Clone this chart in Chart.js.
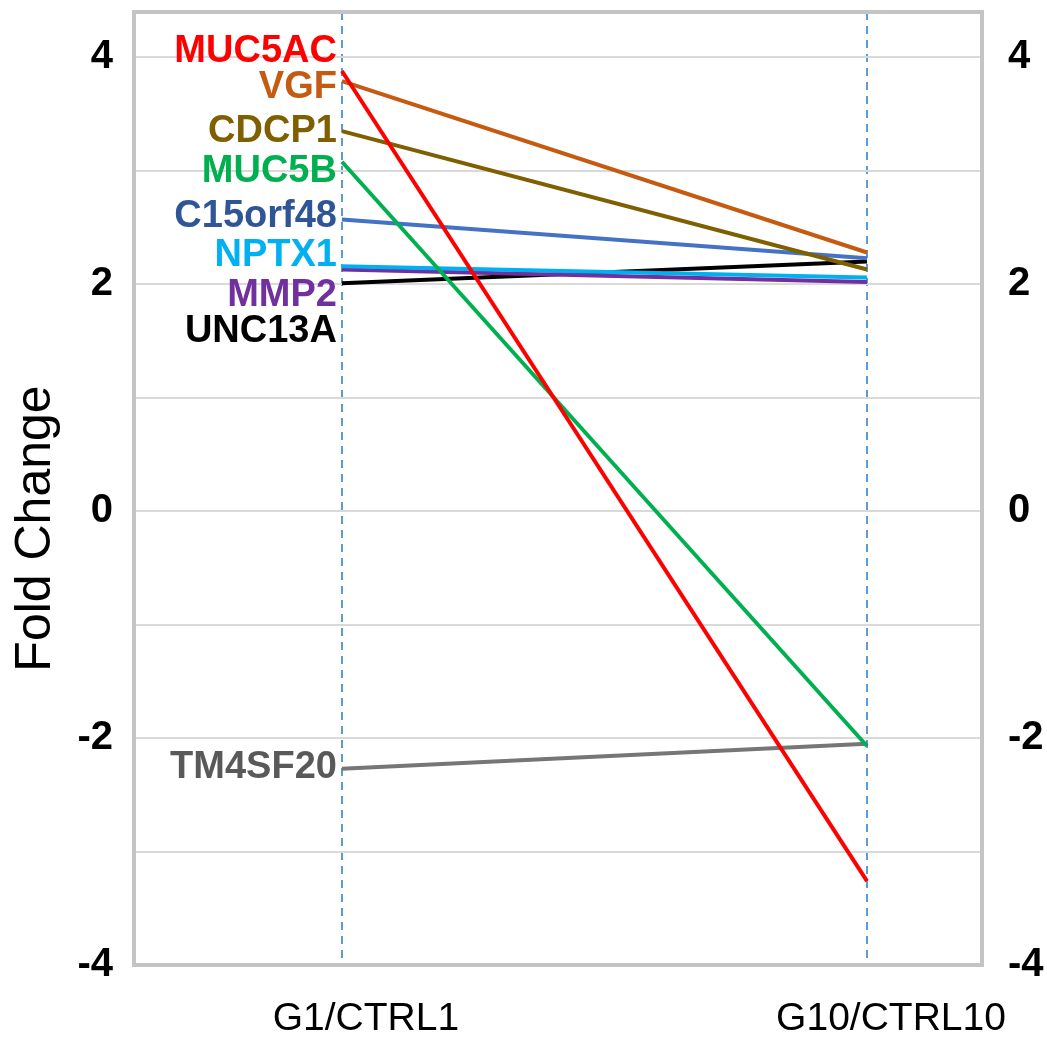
<!DOCTYPE html>
<html>
<head>
<meta charset="utf-8">
<script src="https://cdn.jsdelivr.net/npm/chart.js@4"></script>
<style>
    html, body { margin: 0; padding: 0; background: #fff; }
</style>
</head>
<body>
<canvas id="chart" width="1047" height="1050"></canvas>
<script>
(function (Chart) {
    "use strict";

    var categories = ["G1/CTRL1", "G10/CTRL10"];
    var genes = ["MUC5AC", "VGF", "CDCP1", "MUC5B", "C15orf48", "NPTX1", "MMP2", "UNC13A", "TM4SF20"];
    var g1Values = [3.88, 3.79, 3.35, 3.08, 2.57, 2.16, 2.13, 2.01, -2.27];
    var g10Values = [-3.26, 2.28, 2.13, -2.07, 2.23, 2.06, 2.02, 2.20, -2.05];
    var yTicks = [-4, -3, -2, -1, 0, 1, 2, 3, 4];
    // where the gene names sit next to the first column (in fold change units)
    var labelAnchors = [4.05, 3.73, 3.35, 2.99, 2.60, 2.25, 1.90, 1.58, -2.26];

    var lineColors = ["#FF0000", "#C55A11", "#7F6000", "#00B050", "#4472C4", "#00B0F0", "#7030A0", "#000000", "#767676"];
    var labelColors = ["#FF0000", "#C55A11", "#7F6000", "#00B050", "#2F5597", "#00B0F0", "#7030A0", "#000000", "#595959"];

    var datasets = genes.map(function (gene, i) {
        return {
            label: gene,
            data: [{x: 0, y: g1Values[i]}, {x: 1, y: g10Values[i]}],
            borderColor: lineColors[i],
            borderWidth: 4,
            pointRadius: 0,
            tension: 0,
            fill: false
        };
    });

    // plot frame, gene names and the y title
    var decorations = {
        id: "decorations",
        beforeDatasetsDraw: function (chart) {
            var ctx = chart.ctx, a = chart.chartArea;
            ctx.save();
            ctx.strokeStyle = "#C4C4C4";
            ctx.lineWidth = 4;
            ctx.strokeRect(a.left, a.top, a.right - a.left, a.bottom - a.top);
            ctx.restore();
        },
        afterDatasetsDraw: function (chart) {
            var ctx = chart.ctx,
                xs = chart.scales.x,
                ys = chart.scales.y,
                a = chart.chartArea,
                xText = xs.getPixelForValue(0) - 5;

            ctx.save();
            ctx.font = "bold 38px 'Liberation Sans', Arial, sans-serif";
            ctx.textAlign = "right";
            ctx.textBaseline = "middle";
            genes.forEach(function (gene, i) {
                ctx.fillStyle = labelColors[i];
                ctx.fillText(gene, xText, ys.getPixelForValue(labelAnchors[i]));
            });

            ctx.translate(50, (a.top + a.bottom) / 2 + 40);
            ctx.rotate(-Math.PI / 2);
            ctx.textAlign = "center";
            ctx.textBaseline = "alphabetic";
            ctx.fillStyle = "#000";
            ctx.font = "50px 'Liberation Sans', Arial, sans-serif";
            ctx.fillText("Fold Change", 0, 0);
            ctx.restore();
        }
    };

    var tickFont = {family: "'Liberation Sans', Arial, sans-serif", size: 40, weight: "bold"};

    // no extra room for overhanging tick labels, the frame is fixed
    function noOverhang(scale) {
        scale.paddingTop = 0;
        scale.paddingBottom = 0;
        scale.paddingLeft = 0;
        scale.paddingRight = 0;
    }

    new Chart(document.getElementById("chart"), {
        type: "line",
        data: {datasets: datasets},
        options: {
            responsive: false,
            animation: false,
            devicePixelRatio: 1,
            layout: {padding: {top: 12, left: 0, right: 0, bottom: 0}},
            plugins: {legend: {display: false}, tooltip: {enabled: false}},
            scales: {
                x: {
                    type: "linear",
                    min: -0.396,
                    max: 1.219,
                    afterBuildTicks: function (scale) {
                        scale.ticks = categories.map(function (c, i) { return {value: i}; });
                    },
                    afterFit: function (scale) {
                        scale.height = 85;
                        noOverhang(scale);
                    },
                    grid: {color: "#5B9BD5", lineWidth: 2, drawTicks: false},
                    border: {display: false, dash: [8, 6]},
                    ticks: {
                        callback: function (v) { return categories[v]; },
                        font: {family: "'Liberation Sans', Arial, sans-serif", size: 39},
                        color: "#000",
                        padding: 31,
                        labelOffset: 24,
                        maxRotation: 0,
                        autoSkip: false
                    }
                },
                y: {
                    min: -4,
                    max: 4.4,
                    afterBuildTicks: function (scale) {
                        scale.ticks = yTicks.map(function (v) { return {value: v}; });
                    },
                    afterFit: function (scale) {
                        scale.width = 134;
                        noOverhang(scale);
                    },
                    grid: {color: "#D9D9D9", lineWidth: 2, drawTicks: false},
                    border: {display: false},
                    ticks: {
                        callback: function (v) { return v % 2 === 0 ? v : ""; },
                        font: tickFont,
                        color: "#000",
                        padding: 21
                    }
                },
                y2: {
                    position: "right",
                    min: -4,
                    max: 4.4,
                    afterBuildTicks: function (scale) {
                        scale.ticks = yTicks.map(function (v) { return {value: v}; });
                    },
                    afterFit: function (scale) {
                        scale.width = 65;
                        noOverhang(scale);
                    },
                    grid: {display: false, drawTicks: false},
                    border: {display: false},
                    ticks: {
                        callback: function (v) { return v % 2 === 0 ? v : ""; },
                        font: tickFont,
                        color: "#000",
                        padding: 26
                    }
                }
            }
        },
        plugins: [decorations]
    });
})(Chart);
</script>
</body>
</html>
